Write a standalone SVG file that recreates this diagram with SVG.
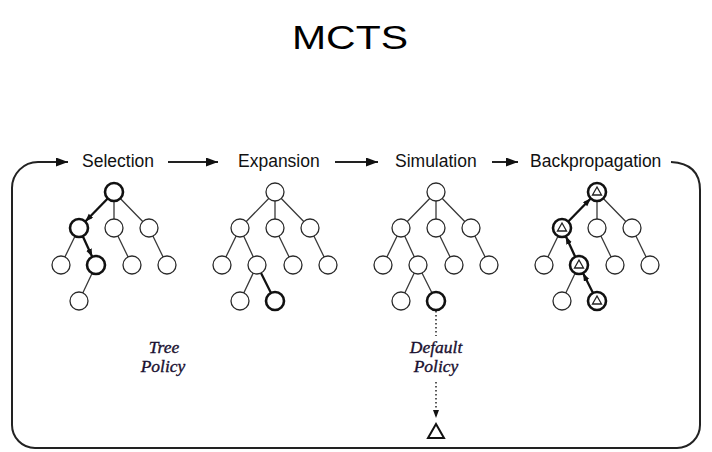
<svg xmlns="http://www.w3.org/2000/svg" width="712" height="452" viewBox="0 0 712 452">
<defs>
<marker id="ah" markerUnits="userSpaceOnUse" markerWidth="13" markerHeight="10" refX="12" refY="4.5" orient="auto"><path d="M0,0 L12,4.5 L0,9 Z" fill="#111"/></marker>
<marker id="ahs" markerUnits="userSpaceOnUse" markerWidth="9" markerHeight="8" refX="8" refY="3" orient="auto"><path d="M0,0 L8,3 L0,6 Z" fill="#111"/></marker>
<style>
.lbl{font-family:"Liberation Sans",Arial,sans-serif;font-size:17.5px;fill:#111}
.pol{font-family:"Liberation Serif","Times New Roman",serif;font-style:italic;font-size:17.5px;fill:#1a1030;stroke:#1a1030;stroke-width:0.35;text-anchor:middle}
.e{stroke:#3a3a3a;stroke-width:1.3;fill:none}
.eb{stroke:#111;stroke-width:2.3;fill:none}
.n{fill:#fff;stroke:#2a2a2a;stroke-width:1.3}
.nb{fill:#fff;stroke:#111;stroke-width:2.6}
.tri{fill:none;stroke:#222;stroke-width:1.3}
.flow{stroke:#222;stroke-width:2;fill:none}
.dot{stroke:#222;stroke-width:1.5;stroke-dasharray:1.5 2.5;fill:none}
</style>
</defs>
<rect width="712" height="452" fill="#fff"/>
<text x="350" y="49" font-family="Liberation Sans,Arial,sans-serif" font-size="34" text-anchor="middle" textLength="116" lengthAdjust="spacingAndGlyphs" fill="#000">MCTS</text>

<g id="connectors">
<path class="flow" d="M671,162 C690,163 700,172 700,190 L700,425 A23,23 0 0 1 677,448 L35,448 A23,23 0 0 1 12,425 L12,188 A26,26 0 0 1 38,162 L68,162" marker-end="url(#ah)"/>
<line class="flow" x1="168" y1="162" x2="218" y2="162" marker-end="url(#ah)"/>
<line class="flow" x1="335" y1="162" x2="378" y2="162" marker-end="url(#ah)"/>
<line class="flow" x1="492" y1="162" x2="518" y2="162" marker-end="url(#ah)"/>
<line class="dot" x1="436" y1="311" x2="436" y2="336"/>
<line class="dot" x1="436" y1="382" x2="436" y2="418" marker-end="url(#ahs)"/>
</g>

<g id="labels">
<text class="lbl" x="82" y="167">Selection</text>
<text class="lbl" x="238" y="167">Expansion</text>
<text class="lbl" x="395" y="167">Simulation</text>
<text class="lbl" x="530" y="167">Backpropagation</text>
<text class="pol" x="164" y="353">Tree</text>
<text class="pol" x="163" y="372">Policy</text>
<text class="pol" x="436" y="353">Default</text>
<text class="pol" x="436" y="372">Policy</text>
</g>

<g id="selection">
<path class="e" d="M114,192 L114,228 M114,192 L149,228 M79,228 L61,265 M114,228 L132,265 M149,228 L167,265 M96,265 L79,301"/>
<path class="eb" d="M107.7,198.5 L85.3,221.5" marker-end="url(#ahs)"/>
<path class="eb" d="M82.8,236.2 L92.2,256.8" marker-end="url(#ahs)"/>
<circle class="nb" cx="114" cy="192" r="9"/>
<circle class="nb" cx="79" cy="228" r="9"/>
<circle class="n" cx="114" cy="228" r="9"/>
<circle class="n" cx="149" cy="228" r="9"/>
<circle class="n" cx="61" cy="265" r="9"/>
<circle class="nb" cx="96" cy="265" r="9"/>
<circle class="n" cx="132" cy="265" r="9"/>
<circle class="n" cx="167" cy="265" r="9"/>
<circle class="n" cx="79" cy="301" r="9"/>
</g>

<g id="expansion">
<path class="e" d="M275,192 L240,228 M275,192 L275,228 M275,192 L310,228 M240,228 L222,265 M240,228 L257,265 M275,228 L293,265 M310,228 L328,265 M257,265 L240,301"/>
<path class="eb" d="M257,265 L275,301"/>
<circle class="n" cx="275" cy="192" r="9"/>
<circle class="n" cx="240" cy="228" r="9"/>
<circle class="n" cx="275" cy="228" r="9"/>
<circle class="n" cx="310" cy="228" r="9"/>
<circle class="n" cx="222" cy="265" r="9"/>
<circle class="n" cx="257" cy="265" r="9"/>
<circle class="n" cx="293" cy="265" r="9"/>
<circle class="n" cx="328" cy="265" r="9"/>
<circle class="n" cx="240" cy="301" r="9"/>
<circle class="nb" cx="275" cy="301" r="9"/>
</g>

<g id="simulation">
<path class="e" d="M436,192 L401,228 M436,192 L436,228 M436,192 L471,228 M401,228 L383,265 M401,228 L418,265 M436,228 L454,265 M471,228 L489,265 M418,265 L401,301 M418,265 L436,301"/>
<circle class="n" cx="436" cy="192" r="9"/>
<circle class="n" cx="401" cy="228" r="9"/>
<circle class="n" cx="436" cy="228" r="9"/>
<circle class="n" cx="471" cy="228" r="9"/>
<circle class="n" cx="383" cy="265" r="9"/>
<circle class="n" cx="418" cy="265" r="9"/>
<circle class="n" cx="454" cy="265" r="9"/>
<circle class="n" cx="489" cy="265" r="9"/>
<circle class="n" cx="401" cy="301" r="9"/>
<circle class="nb" cx="436" cy="301" r="9"/>
</g>

<g id="terminal">
<path d="M436,424 L444,438 L428,438 Z" fill="#fff" stroke="#111" stroke-width="2"/>
</g>

<g id="backpropagation">
<path class="e" d="M597,192 L597,228 M597,192 L632,228 M562,228 L544,265 M597,228 L615,265 M632,228 L650,265 M579,265 L562,301"/>
<path class="eb" d="M593,292.9 L583,273.1" marker-end="url(#ahs)"/>
<path class="eb" d="M575.2,256.8 L565.8,236.2" marker-end="url(#ahs)"/>
<path class="eb" d="M568.3,221.5 L590.7,198.5" marker-end="url(#ahs)"/>
<circle class="nb" cx="597" cy="192" r="9"/>
<circle class="nb" cx="562" cy="228" r="9"/>
<circle class="n" cx="597" cy="228" r="9"/>
<circle class="n" cx="632" cy="228" r="9"/>
<circle class="n" cx="544" cy="265" r="9"/>
<circle class="nb" cx="579" cy="265" r="9"/>
<circle class="n" cx="615" cy="265" r="9"/>
<circle class="n" cx="650" cy="265" r="9"/>
<circle class="n" cx="562" cy="301" r="9"/>
<circle class="nb" cx="597" cy="301" r="9"/>
<path class="tri" d="M597,187 L601.5,195 L592.5,195 Z"/>
<path class="tri" d="M562,223 L566.5,231 L557.5,231 Z"/>
<path class="tri" d="M579,260 L583.5,268 L574.5,268 Z"/>
<path class="tri" d="M597,296 L601.5,304 L592.5,304 Z"/>
</g>
</svg>
